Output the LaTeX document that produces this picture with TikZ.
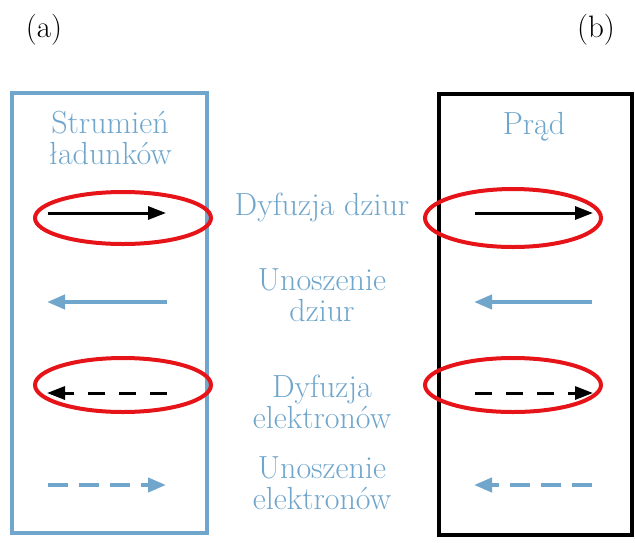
\documentclass[tikz,border=0pt]{standalone}
\usetikzlibrary{arrows.meta}
\definecolor{lblue}{RGB}{112,166,204}
\definecolor{lred}{RGB}{230,20,25}
\begin{document}
\begin{tikzpicture}[x=1pt,y=-1pt,
  lbl/.style={text=lblue,font=\fontsize{32}{31}\selectfont,align=center,inner sep=0pt},
  tag/.style={font=\fontsize{31}{31}\selectfont,inner sep=0pt},
  bluebox/.style={draw=lblue,line width=4pt},
  blackbox/.style={draw=black,line width=3.5pt},
  blk/.style={draw=black,line width=3pt,-{Triangle[length=18pt,width=13pt]}},
  blu/.style={draw=lblue,line width=4pt,-{Triangle[length=18pt,width=14pt]}},
  blkd/.style={blk,dash pattern=on 17pt off 14pt},
  blud/.style={blu,dash pattern=on 20pt off 11pt},
]
\useasboundingbox (0,0) rectangle (635,542);
\node[tag] (ta) at (44,30) {(a)};
\node[tag] (tb) at (596,30) {(b)};
\draw[bluebox] (12,93) rectangle (207,533);
\draw[blackbox] (439,94) rectangle (632,535);
\node[lbl] (h1) at (110,138) {Strumień\\ładunków};
\node[lbl] (h2) at (534,127) {Prąd};
\node[lbl] (m1) at (322,208) {Dyfuzja dziur};
\node[lbl] (m2) at (322,295) {Unoszenie\\dziur};
\node[lbl] (m3) at (322,402) {Dyfuzja\\elektronów};
\node[lbl] (m4) at (322,483) {Unoszenie\\elektronów};
% left arrows
\coordinate (a1s) at (48,213); \coordinate (a1e) at (166,213);
\coordinate (a2s) at (167,302); \coordinate (a2e) at (47,302);
\coordinate (a3s) at (167,393); \coordinate (a3e) at (47,393);
\coordinate (a4s) at (48,485); \coordinate (a4e) at (166,485);
\draw[blk] (a1s) -- (a1e);
\draw[blu] (a2s) -- (a2e);
\draw[blkd] (a3s) -- (a3e);
\draw[blud] (a4s) -- (a4e);
% right arrows
\coordinate (b1s) at (475,213); \coordinate (b1e) at (593,213);
\coordinate (b2s) at (592,302); \coordinate (b2e) at (474,302);
\coordinate (b3s) at (475,393); \coordinate (b3e) at (593,393);
\coordinate (b4s) at (592,485); \coordinate (b4e) at (474,485);
\draw[blk] (b1s) -- (b1e);
\draw[blu] (b2s) -- (b2e);
\draw[blkd] (b3s) -- (b3e);
\draw[blud] (b4s) -- (b4e);
% red ellipses
\draw[draw=lred,line width=4pt] (123,218) ellipse [x radius=88, y radius=26];
\draw[draw=lred,line width=4pt] (123,385) ellipse [x radius=88, y radius=27];
\draw[draw=lred,line width=4pt] (513,218) ellipse [x radius=88, y radius=29];
\draw[draw=lred,line width=4pt] (513,385) ellipse [x radius=88, y radius=27];
\end{tikzpicture}
\end{document}
